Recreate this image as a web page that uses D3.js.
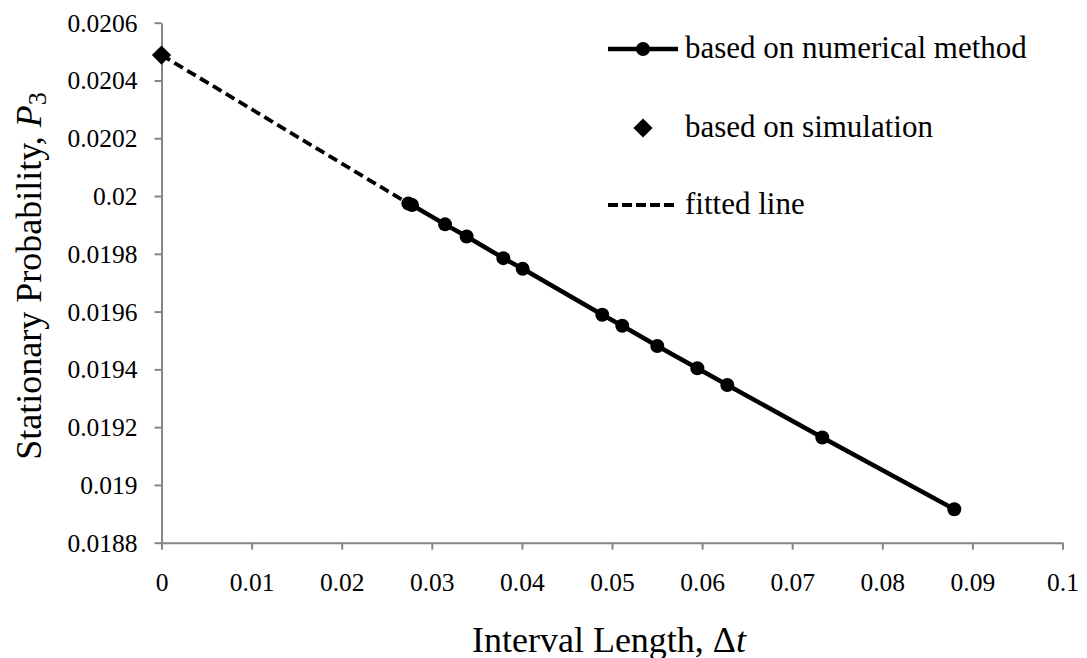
<!DOCTYPE html>
<html>
<head>
<meta charset="utf-8">
<script src="https://cdn.jsdelivr.net/npm/d3@7"></script>
<style>
  body { margin: 0; background: #fff; }
  svg text { font-family: "Liberation Serif", "Times New Roman", serif; fill: #000; }
</style>
</head>
<body>
<svg id="chart" width="1087" height="658" font-family="Liberation Serif"></svg>
<script>
// ---- data ----
const numX = [0.0274, 0.0278, 0.03147, 0.03387, 0.03794, 0.04009, 0.04892, 0.05114, 0.05503, 0.05947, 0.0628, 0.07334, 0.08799];
const numY = [0.019974, 0.019969, 0.019902, 0.019860, 0.019785, 0.019748, 0.019589, 0.019551, 0.019481, 0.019404, 0.019346, 0.019164, 0.018916];
const simX = [0];
const simY = [0.020488];
const fitX = [0, 0.0274];
const fitY = [0.020488, 0.019974];
const xTicks = [0, 0.01, 0.02, 0.03, 0.04, 0.05, 0.06, 0.07, 0.08, 0.09, 0.1];
const xTickLabels = ["0", "0.01", "0.02", "0.03", "0.04", "0.05", "0.06", "0.07", "0.08", "0.09", "0.1"];
const yTicks = [0.0188, 0.019, 0.0192, 0.0194, 0.0196, 0.0198, 0.02, 0.0202, 0.0204, 0.0206];
const yTickLabels = ["0.0188", "0.019", "0.0192", "0.0194", "0.0196", "0.0198", "0.02", "0.0202", "0.0204", "0.0206"];
const legendLabels = ["based on numerical method", "based on simulation", "fitted line"];

// ---- layout ----
const FONT = '"Liberation Serif", "Times New Roman", serif';
const svg = d3.select("#chart");
const x = d3.scaleLinear().domain([0, 0.1]).range([161.5, 1062.5]);
const y = d3.scaleLinear().domain([0.0188, 0.0206]).range([542.7, 22.7]);
const axisColor = "#868686";

// x axis
const gx = svg.append("g").attr("transform", `translate(0,${y(0.0188)})`)
  .call(d3.axisBottom(x).tickValues(xTicks).tickFormat((d, i) => xTickLabels[i]).tickSize(7).tickSizeOuter(0));
gx.attr("font-family", FONT);
gx.select(".domain").attr("stroke", axisColor).attr("stroke-width", 2);
gx.selectAll(".tick line").attr("stroke", axisColor).attr("stroke-width", 2);
gx.selectAll(".tick text").attr("font-size", 25.5).attr("y", 0).attr("dy", 0)
  .attr("transform", "translate(0,48.5)").style("font-family", FONT);

// y axis
const gy = svg.append("g").attr("transform", `translate(${x(0)},0)`)
  .call(d3.axisLeft(y).tickValues(yTicks).tickFormat((d, i) => yTickLabels[i]).tickSize(7).tickSizeOuter(0));
gy.attr("font-family", FONT);
gy.select(".domain").attr("stroke", axisColor).attr("stroke-width", 2);
gy.selectAll(".tick line").attr("stroke", axisColor).attr("stroke-width", 2);
gy.selectAll(".tick text").attr("font-size", 25.5).attr("x", -24).attr("dy", "0.33em").style("font-family", FONT);

// fitted line (dashed)
const line = d3.line().x(d => x(d[0])).y(d => y(d[1]));
svg.append("path")
  .datum(fitX.map((v, i) => [v, fitY[i]]))
  .attr("d", line).attr("fill", "none").attr("stroke", "#000")
  .attr("stroke-width", 3.8).attr("stroke-dasharray", "10,5");

// numerical method line + markers
const numData = numX.map((v, i) => [v, numY[i]]);
svg.append("path").datum(numData).attr("d", line)
  .attr("fill", "none").attr("stroke", "#000").attr("stroke-width", 4.5);
svg.selectAll("circle.num").data(numData).enter().append("circle")
  .attr("class", "num").attr("cx", d => x(d[0])).attr("cy", d => y(d[1])).attr("r", 7).attr("fill", "#000");

// simulation diamond
const diamond = d3.symbol().type(d3.symbolSquare).size(185);
svg.selectAll("path.sim").data(simX.map((v, i) => [v, simY[i]])).enter().append("path")
  .attr("class", "sim").attr("d", diamond)
  .attr("transform", d => `translate(${x(d[0])},${y(d[1])}) rotate(45)`).attr("fill", "#000");

// legend
const lg = svg.append("g").style("font-family", FONT);
lg.append("line").attr("x1", 608).attr("x2", 678).attr("y1", 49).attr("y2", 49)
  .attr("stroke", "#000").attr("stroke-width", 4.5);
lg.append("circle").attr("cx", 643).attr("cy", 49).attr("r", 7).attr("fill", "#000");
lg.append("text").attr("x", 685).attr("y", 58.3).attr("font-size", 31).text(legendLabels[0]);
lg.append("path").attr("d", diamond).attr("transform", "translate(643,128) rotate(45)").attr("fill", "#000");
lg.append("text").attr("x", 685).attr("y", 137.3).attr("font-size", 31).text(legendLabels[1]);
lg.append("line").attr("x1", 608).attr("x2", 678).attr("y1", 205).attr("y2", 205)
  .attr("stroke", "#000").attr("stroke-width", 3.8).attr("stroke-dasharray", "10,4");
lg.append("text").attr("x", 685).attr("y", 214).attr("font-size", 31).text(legendLabels[2]);

// axis titles
const xt = svg.append("text").attr("x", 609).attr("y", 651.5).attr("text-anchor", "middle")
  .attr("font-size", 36).style("font-family", FONT);
xt.append("tspan").text("Interval Length, Δ");
xt.append("tspan").attr("font-style", "italic").text("t");

const yt = svg.append("text").attr("transform", "translate(41,276) rotate(-90)").attr("text-anchor", "middle")
  .attr("font-size", 36).style("font-family", FONT);
yt.append("tspan").text("Stationary Probability, ");
yt.append("tspan").attr("font-style", "italic").text("P");
yt.append("tspan").attr("font-size", 26).attr("dy", 5).text("3");
</script>
</body>
</html>
